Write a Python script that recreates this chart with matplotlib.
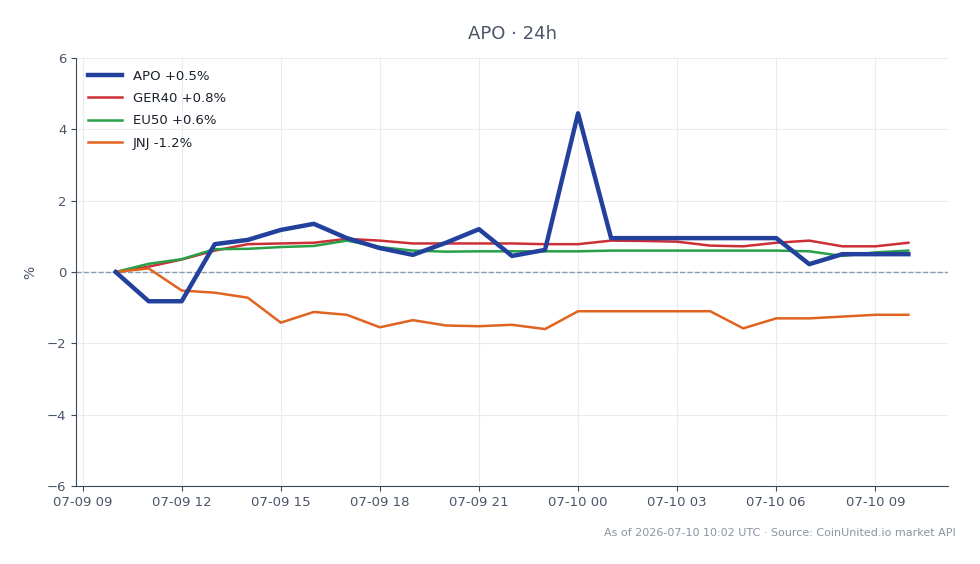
import numpy as np
import pandas as pd
import matplotlib
matplotlib.use("Agg")
import matplotlib.pyplot as plt
import matplotlib.dates as mdates

# hourly points, 07-09 10:00 -> 07-10 10:00
times = pd.date_range("2026-07-09 10:00", "2026-07-10 10:00", freq="h")

apo = [0, -0.82, -0.82, 0.78, 0.9, 1.18, 1.35, 0.95, 0.67, 0.48, 0.82, 1.2, 0.45,
       0.62, 4.45, 0.95, 0.95, 0.95, 0.95, 0.95, 0.95, 0.22, 0.5, 0.5, 0.5]
ger40 = [0, 0.15, 0.35, 0.6, 0.78, 0.8, 0.82, 0.93, 0.88, 0.8, 0.8, 0.8, 0.8,
         0.78, 0.78, 0.88, 0.87, 0.85, 0.74, 0.72, 0.82, 0.88, 0.72, 0.72, 0.82]
eu50 = [0, 0.23, 0.36, 0.64, 0.65, 0.7, 0.73, 0.88, 0.7, 0.6, 0.57, 0.58, 0.58,
        0.58, 0.58, 0.6, 0.6, 0.6, 0.6, 0.6, 0.6, 0.58, 0.45, 0.55, 0.6]
jnj = [0, 0.1, -0.52, -0.58, -0.72, -1.42, -1.12, -1.2, -1.55, -1.35, -1.5, -1.52, -1.48,
       -1.6, -1.1, -1.1, -1.1, -1.1, -1.1, -1.58, -1.3, -1.3, -1.25, -1.2, -1.2]

labels = ["APO +0.5%", "GER40 +0.8%", "EU50 +0.6%", "JNJ -1.2%"]
colors = ["#22409c", "#cc2f36", "#27a048", "#e0631f"]

text_col = "#4a5568"

fig = plt.figure(figsize=(9.8, 5.64), dpi=100)
ax = fig.add_axes([76 / 980, 1 - 486 / 564, (948 - 76) / 980, (486 - 58) / 564])

ax.plot(times, apo, color=colors[0], lw=3.2, label=labels[0], zorder=5)
ax.plot(times, ger40, color=colors[1], lw=1.8, label=labels[1], zorder=4)
ax.plot(times, eu50, color=colors[2], lw=1.8, label=labels[2], zorder=4)
ax.plot(times, jnj, color=colors[3], lw=1.8, label=labels[3], zorder=4)

ax.axhline(0, color="#8a9bb0", lw=1, ls="--", zorder=2)

ax.set_ylim(-6, 6)
ax.set_yticks([-6, -4, -2, 0, 2, 4, 6])
ax.xaxis.set_major_locator(mdates.HourLocator(byhour=range(0, 24, 3)))
ax.xaxis.set_major_formatter(mdates.DateFormatter("%m-%d %H"))
ax.margins(x=0.05)

ax.grid(True, color="#e8ebef", lw=0.8)
ax.set_axisbelow(True)
for s in ["top", "right"]:
    ax.spines[s].set_visible(False)
for s in ["left", "bottom"]:
    ax.spines[s].set_color("#3d4a5c")
ax.tick_params(colors="#3d4a5c", labelcolor=text_col, labelsize=9.5)

ax.set_ylabel("%", color=text_col, fontsize=10, labelpad=7)
ax.set_title("APO · 24h", color=text_col, fontsize=13, pad=14)

leg = ax.legend(loc="upper left", frameon=False, fontsize=9.5, handlelength=2.6,
                labelspacing=0.7)
for t in leg.get_texts():
    t.set_color("#1a202c")

fig.text(956 / 980, 1 - 533 / 564, "As of 2026-07-10 10:02 UTC · Source: CoinUnited.io market API",
         ha="right", va="center", fontsize=8, color="#8a94a3")

fig.savefig("out.png", dpi=100)
